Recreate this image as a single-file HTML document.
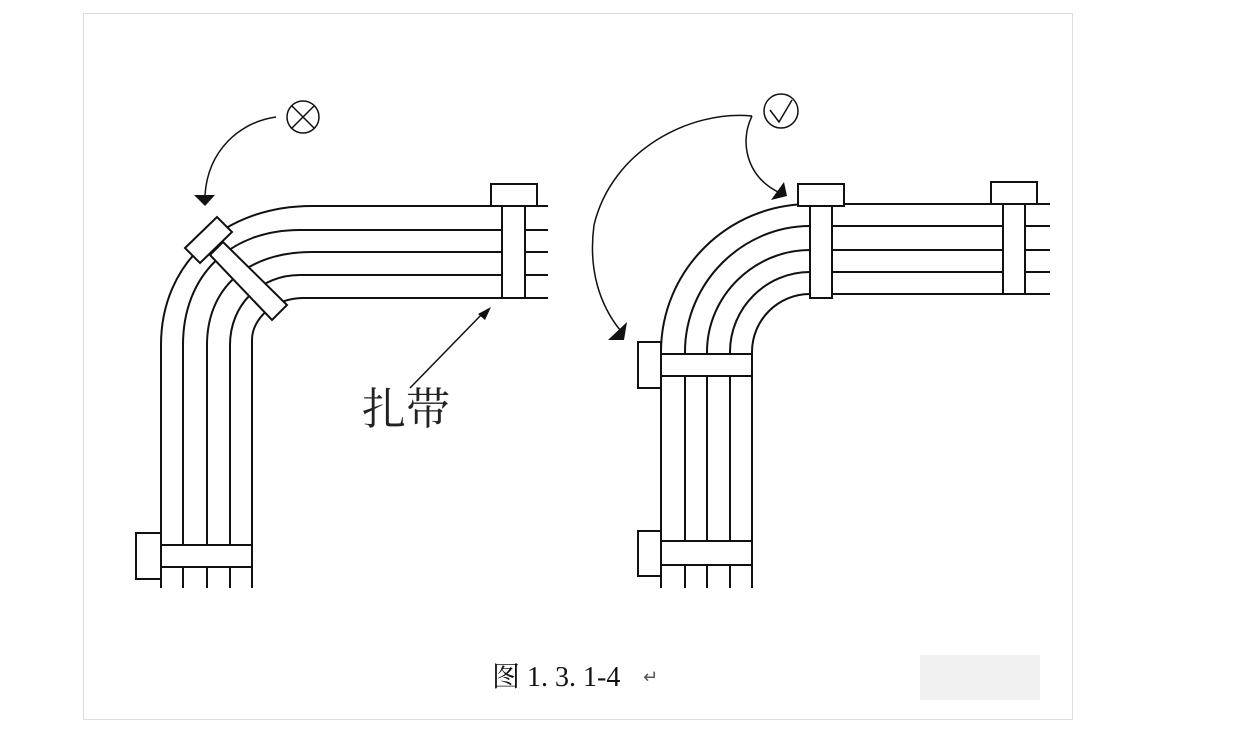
<!DOCTYPE html>
<html><head><meta charset="utf-8"><style>
html,body{margin:0;padding:0;background:#fff;}
body{width:1250px;height:734px;overflow:hidden;position:relative;}
</style></head><body>
<svg width="1250" height="734" viewBox="0 0 1250 734" xmlns="http://www.w3.org/2000/svg" style="position:absolute;left:0;top:0">
<rect x="83.5" y="13.5" width="989" height="706" fill="#fff" stroke="#ddd" stroke-width="1"/>
<rect x="920" y="655" width="120" height="45" fill="#f1f1f1"/>
<g fill="none" stroke="#111" stroke-width="2">
<!-- LEFT -->
<path d="M161,588 L161,345 C161,262 225,206 312,206 L548,206"/>
<path d="M183,588 L183,345 C183,275 230,230 300,230 L548,230"/>
<path d="M207,588 L207,345 C207,290 245,252 312,252 L548,252"/>
<path d="M230,588 L230,345 C230,305 260,275 300,275 L548,275"/>
<path d="M252,588 L252,340 C252,318 275,298 303,298 L548,298"/>
<polygon points="185,248 217,217 232,232 200,263" fill="#fff"/>
<polygon points="210,255 223,242 287,305 272,320" fill="#fff"/>
<rect x="502" y="206" width="23" height="92" fill="#fff"/>
<rect x="491" y="184" width="46" height="22" fill="#fff"/>
<rect x="161" y="545" width="91" height="22" fill="#fff"/>
<rect x="136" y="533" width="25" height="46" fill="#fff"/>
<circle cx="303" cy="117" r="16" stroke-width="1.5"/>
<path d="M292,106 L314,128 M314,106 L292,128" stroke-width="1.5"/>
<path d="M276,117 C240,122 208,150 205,195" stroke-width="1.5"/>
<path d="M410,388 L484,312" stroke-width="1.5"/>
<!-- RIGHT -->
<path d="M661,588 L661,352 C661,270 728,204 810,204 L1050,204"/>
<path d="M685,588 L685,352 C685,283 742,226 810,226 L1050,226"/>
<path d="M707,588 L707,352 C707,296 754,250 810,250 L1050,250"/>
<path d="M730,588 L730,352 C730,308 766,272 810,272 L1050,272"/>
<path d="M752,588 L752,352 C752,320 778,294 810,294 L1050,294"/>
<rect x="810" y="206" width="22" height="92" fill="#fff"/>
<rect x="798" y="184" width="46" height="22" fill="#fff"/>
<rect x="1003" y="204" width="22" height="90" fill="#fff"/>
<rect x="991" y="182" width="46" height="22" fill="#fff"/>
<rect x="661" y="354" width="91" height="22" fill="#fff"/>
<rect x="638" y="342" width="23" height="46" fill="#fff"/>
<rect x="661" y="541" width="91" height="24" fill="#fff"/>
<rect x="638" y="531" width="23" height="45" fill="#fff"/>
<circle cx="781" cy="111" r="17" stroke-width="1.5"/>
<path d="M770,110 L779,122 L792,100" stroke-width="1.5"/>
<path d="M752,116 C690,110 612,150 594,225 C588,270 600,305 620,330" stroke-width="1.5"/>
<path d="M752,116 C740,140 745,175 778,192" stroke-width="1.5"/>
</g>
<g fill="#111">
<polygon points="194,195 215,195 205,206"/>
<polygon points="478,314 491,307 485,320"/>
<polygon points="608,340 627,322 624,340"/>
<polygon points="771,200 784,182 787,196"/>
</g>
<text x="362" y="424" font-family="'Liberation Serif','Noto Serif CJK SC',serif" font-size="44" fill="#222">扎带</text>
<text x="492" y="686" font-family="'Liberation Serif','Noto Serif CJK SC',serif" font-size="28" fill="#111">图 1. 3. 1-4</text>
<text x="643" y="683" font-family="'DejaVu Sans',sans-serif" font-size="18" fill="#555">↵</text>
</svg>
</body></html>
